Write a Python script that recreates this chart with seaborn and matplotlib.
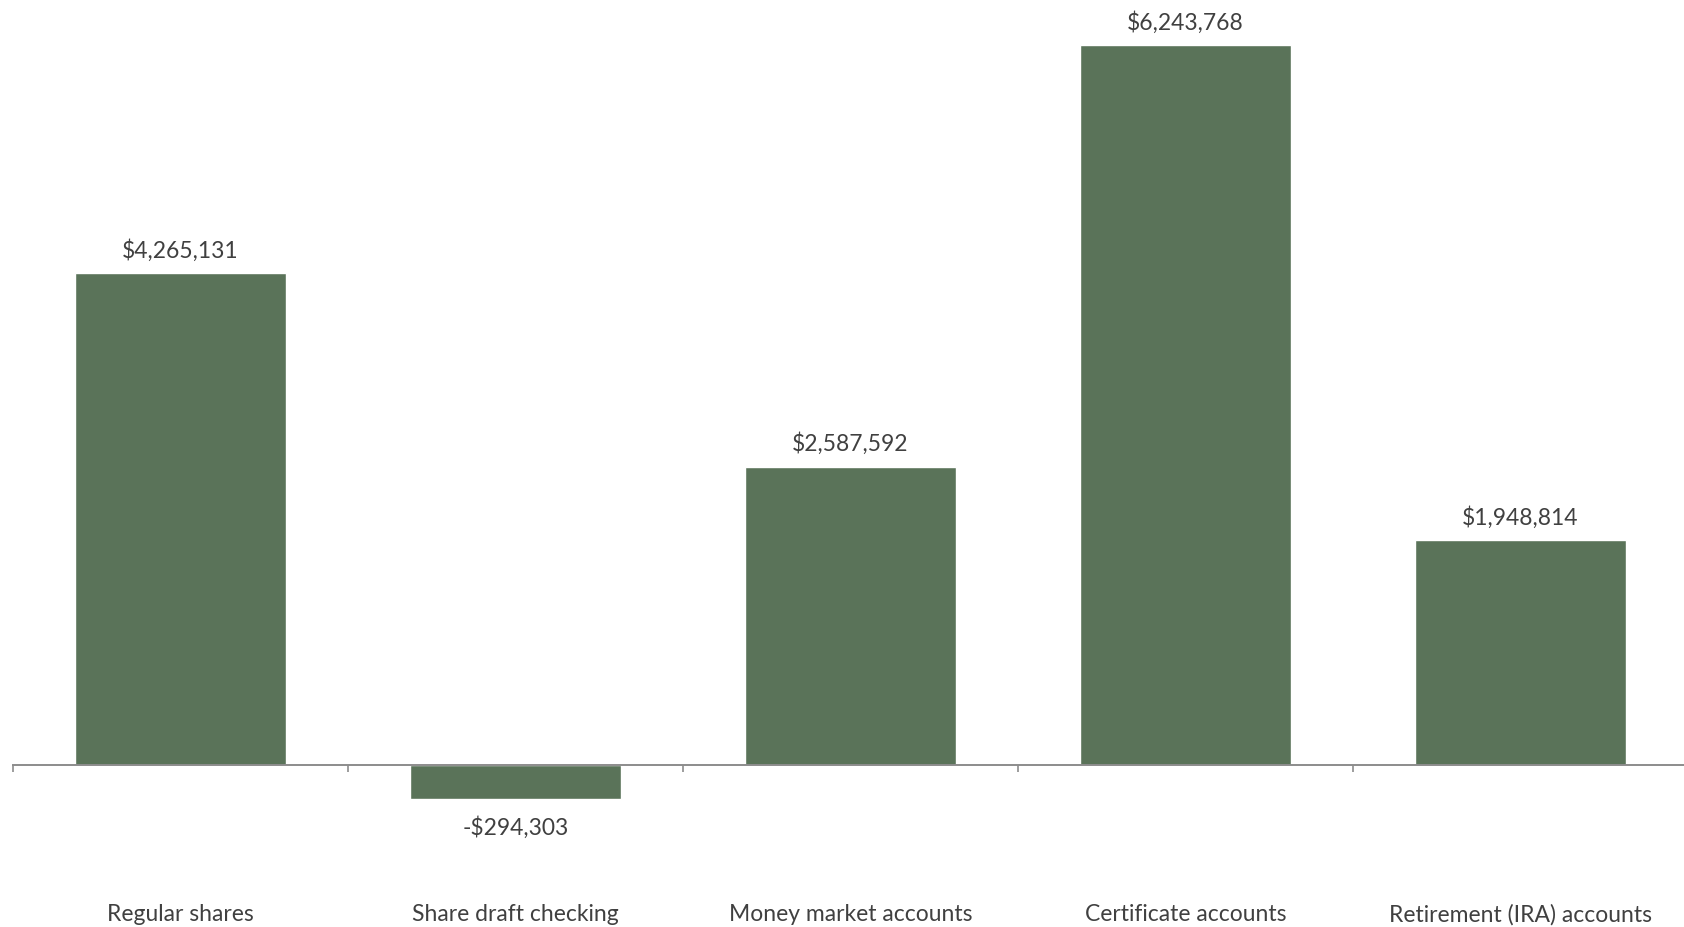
import matplotlib
matplotlib.use("Agg")
import matplotlib.pyplot as plt
from matplotlib.ticker import FixedLocator
import seaborn as sns
import pandas as pd

categories = ["Regular shares", "Share draft checking", "Money market accounts",
              "Certificate accounts", "Retirement (IRA) accounts"]
values = [4265131, -294303, 2587592, 6243768, 1948814]

BAR = "#5a7359"
TEXT = "#404040"
AXIS = "#8c8c8c"

sns.set_theme(style="white")
plt.rcParams["font.family"] = ["Lato", "DejaVu Sans"]

df = pd.DataFrame({"category": categories, "value": values})

fig = plt.figure(figsize=(16.84, 9.28), dpi=100)
ax = fig.add_axes([13 / 1684, 0, 1675 / 1684, 1])

sns.barplot(data=df, x="category", y="value", color=BAR, saturation=1,
            width=0.63, ax=ax)

ax.set_xlim(-0.5, 4.5)
ax.set_ylim(-1.405e6, 6.643e6)
ax.set_xlabel("")
ax.set_ylabel("")
ax.set_yticks([])

for s in ("top", "right", "left"):
    ax.spines[s].set_visible(False)
ax.spines["bottom"].set_position(("data", 0))
ax.spines["bottom"].set_color(AXIS)
ax.spines["bottom"].set_linewidth(1.4)

ax.tick_params(axis="x", which="major", length=0, pad=99.5, labelsize=16.5,
               labelcolor=TEXT)
ax.xaxis.set_minor_locator(FixedLocator([-0.5, 0.5, 1.5, 2.5, 3.5]))
ax.tick_params(axis="x", which="minor", bottom=True, direction="out",
               length=5, width=1.2, color=AXIS)

for i, v in enumerate(values):
    label = f"${v:,.0f}" if v >= 0 else f"-${-v:,.0f}"
    off = 17 if v >= 0 else -20
    ax.annotate(label, (i, v), xytext=(0, off), textcoords="offset points",
                ha="center", va="center", fontsize=16.5, color=TEXT)

fig.savefig("out.png", dpi=100)
